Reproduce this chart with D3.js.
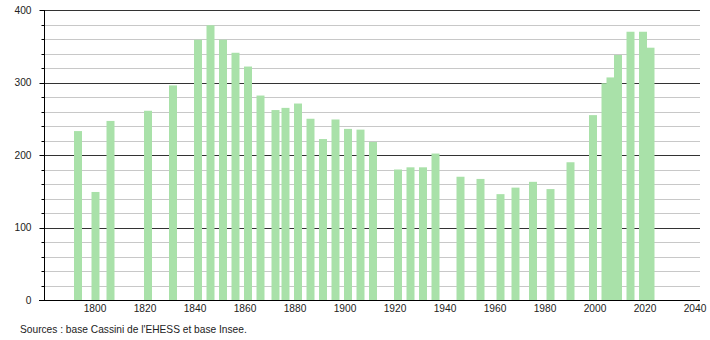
<!DOCTYPE html>
<html>
<head>
<meta charset="utf-8">
<script src="https://cdn.jsdelivr.net/npm/d3@7"></script>
<style>
  body { margin: 0; background: #fff; }
  text { font-family: "Liberation Sans", Arial, sans-serif; }
</style>
</head>
<body>
<script>
// Census years and population counts
var years = [1793, 1800, 1806, 1821, 1831, 1841, 1846, 1851, 1856, 1861, 1866, 1872, 1876,
             1881, 1886, 1891, 1896, 1901, 1906, 1911, 1921, 1926, 1931, 1936, 1946, 1954,
             1962, 1968, 1975, 1982, 1990, 1999, 2004, 2006, 2009, 2014, 2019, 2022];
var population = [233, 149, 247, 261, 296, 359, 379, 359, 341, 322, 282, 262, 265,
                  271, 250, 222, 249, 236, 235, 218, 180, 183, 183, 202, 170, 167,
                  146, 155, 163, 153, 190, 255, 299, 307, 338, 370, 370, 348];

var xTicks = [1800, 1820, 1840, 1860, 1880, 1900, 1920, 1940, 1960, 1980, 2000, 2020, 2040];
var yMajor = [0, 100, 200, 300, 400];
var yMinor = d3.range(20, 400, 20).filter(v => v % 100 != 0);
var source = "Sources : base Cassini de l'EHESS et base Insee.";

var width = 710,
    height = 340,
    fontSize = "10.2px";

var svg = d3.select("body").append("svg")
    .attr("width", width)
    .attr("height", height);

var x = d3.scaleLinear().domain([1780, 2042]).range([45, 700]);
var y = d3.scaleLinear().domain([0, 400]).range([300, 10]);

var left = x(1780), right = x(2042);

// minor grid lines
svg.append("g").selectAll("line")
    .data(yMinor)
  .enter().append("line")
    .attr("x1", left).attr("x2", right)
    .attr("y1", d => Math.round(y(d)) + 0.5)
    .attr("y2", d => Math.round(y(d)) + 0.5)
    .attr("stroke", "#c8c8c8");

// major grid lines
svg.append("g").selectAll("line")
    .data(yMajor.filter(d => d > 0))
  .enter().append("line")
    .attr("x1", left).attr("x2", right)
    .attr("y1", d => Math.round(y(d)) + 0.5)
    .attr("y2", d => Math.round(y(d)) + 0.5)
    .attr("stroke", "#333");

// bars
var barW = x(1783.2) - x(1780);
svg.append("g").selectAll("rect")
    .data(years)
  .enter().append("rect")
    .attr("x", (d, i) => x(d) - barW / 2 + 0.5)
    .attr("width", barW)
    .attr("y", (d, i) => y(population[i]))
    .attr("height", (d, i) => y(0) - y(population[i]))
    .attr("fill", "#a9e1a9");

// y axis
var yAxis = svg.append("g")
    .attr("transform", `translate(${left - 0.5},0)`);

yAxis.append("line")
    .attr("y1", y(400)).attr("y2", y(0))
    .attr("stroke", "#000");

yAxis.selectAll("line.minor")
    .data(yMinor)
  .enter().append("line")
    .attr("class", "minor")
    .attr("x1", -3).attr("x2", 0)
    .attr("y1", d => Math.round(y(d)) + 0.5)
    .attr("y2", d => Math.round(y(d)) + 0.5)
    .attr("stroke", "#000");

yAxis.selectAll("line.major")
    .data(yMajor)
  .enter().append("line")
    .attr("class", "major")
    .attr("x1", -5).attr("x2", 0)
    .attr("y1", d => Math.round(y(d)) + 0.5)
    .attr("y2", d => Math.round(y(d)) + 0.5)
    .attr("stroke", "#000");

yAxis.selectAll("text")
    .data(yMajor)
  .enter().append("text")
    .attr("x", -13)
    .attr("y", d => y(d))
    .attr("dy", "0.35em")
    .attr("text-anchor", "end")
    .style("font-size", fontSize)
    .attr("fill", "#222")
    .text(d => d);

// x axis line
svg.append("line")
    .attr("x1", left - 6).attr("x2", right)
    .attr("y1", Math.round(y(0)) + 0.5)
    .attr("y2", Math.round(y(0)) + 0.5)
    .attr("stroke", "#000");

svg.append("g").selectAll("text")
    .data(xTicks)
  .enter().append("text")
    .attr("x", d => x(d))
    .attr("y", 312)
    .attr("text-anchor", "middle")
    .style("font-size", fontSize)
    .attr("fill", "#222")
    .text(d => d);

// source note
svg.append("text")
    .attr("x", 20)
    .attr("y", 333)
    .style("font-size", fontSize)
    .attr("fill", "#222")
    .text(source);
</script>
</body>
</html>
